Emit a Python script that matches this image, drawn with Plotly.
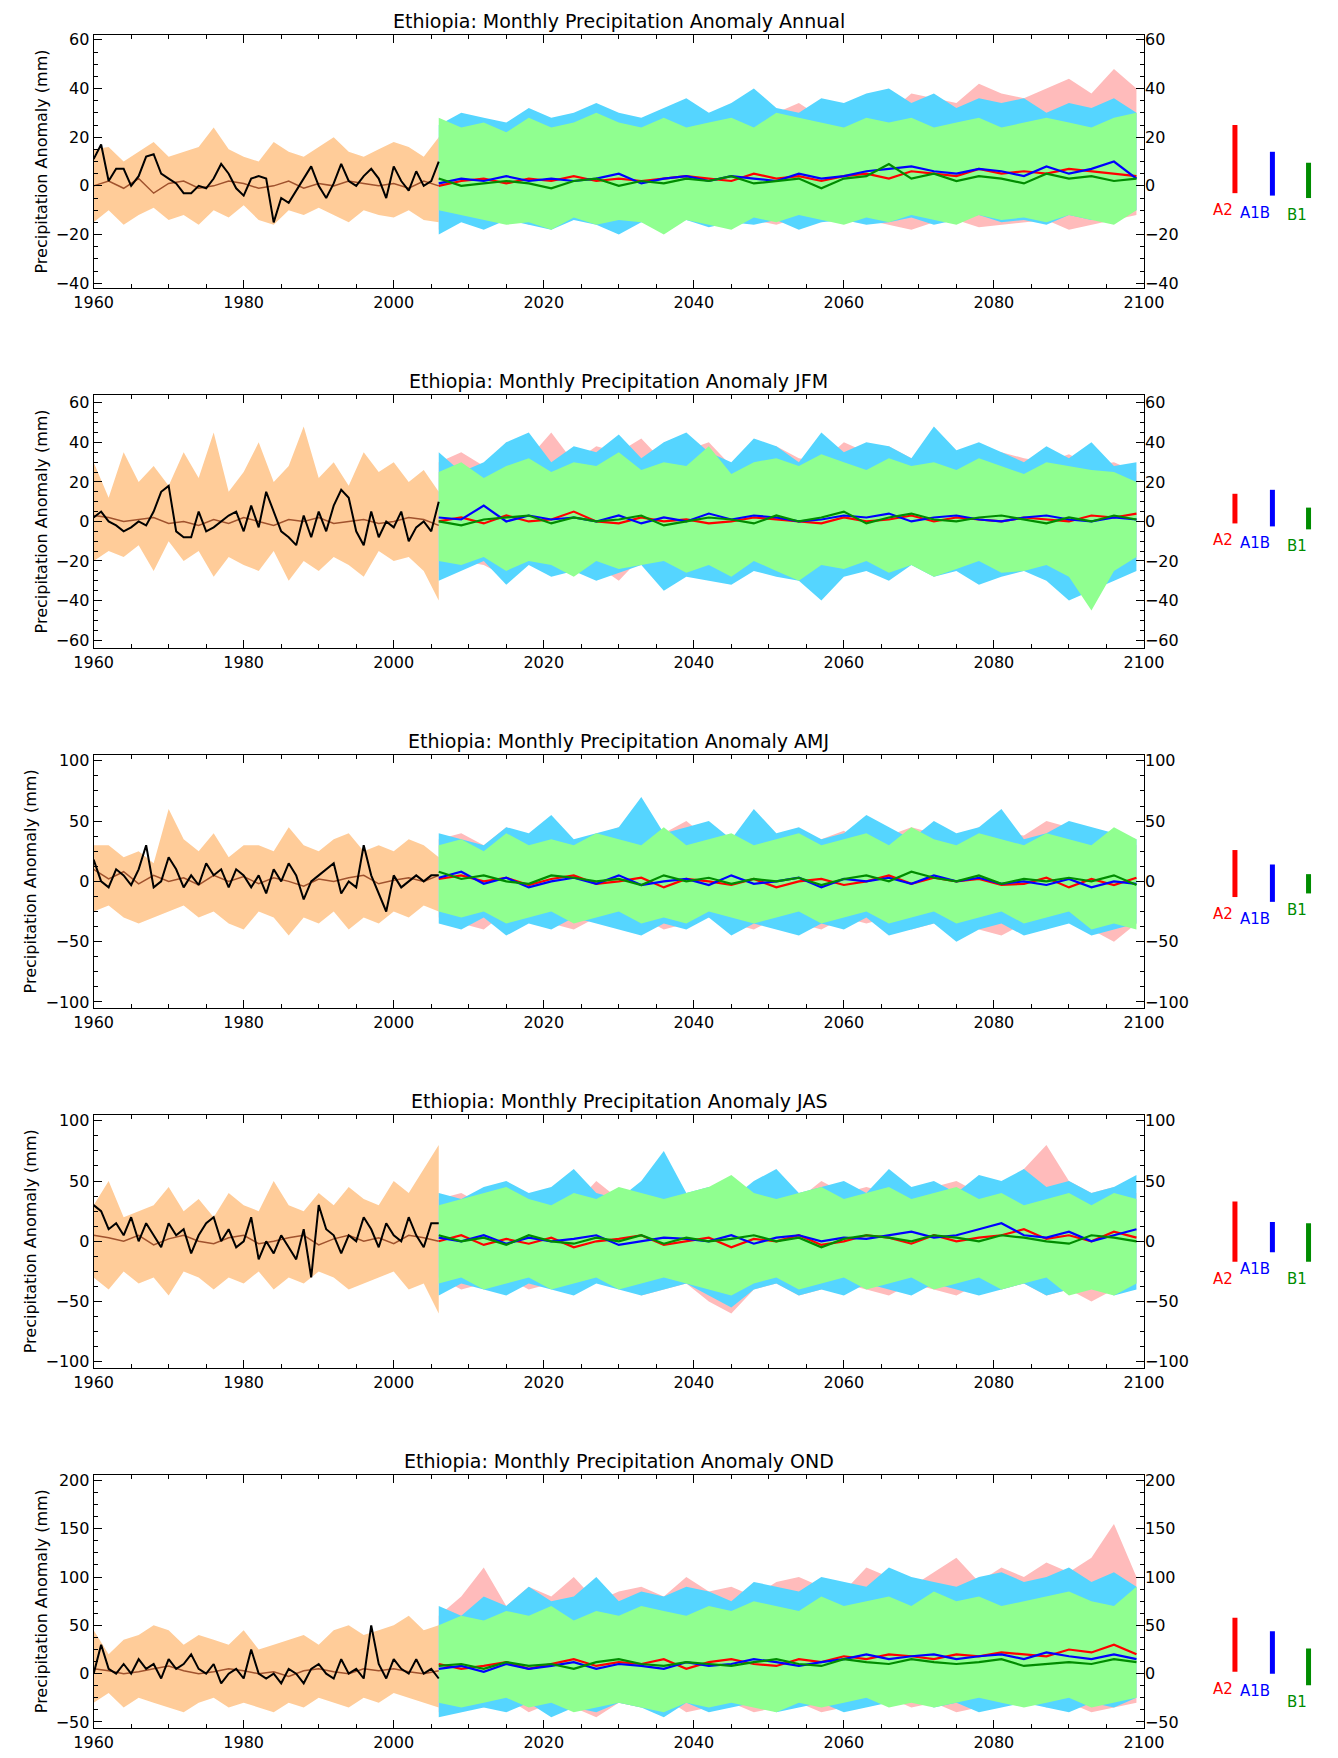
import plotly.graph_objects as go

HIST_YEARS = list(range(1960, 2007))
HIST_YEARS2 = list(range(1960, 2007, 2))
FUT_YEARS = list(range(2006, 2101, 3))

# ---------------- Annual ----------------
ANN_OBS = [11, 17, 2, 7, 7, 0, 4, 12, 13, 5, 3, 1, -3, -3, 0, -1, 3, 9, 5, -1, -4, 3, 4, 3, -15, -5, -7,
           -2, 3, 8, 0, -5, 1, 9, 2, 0, 4, 7, 3, -5, 8, 2, -2, 6, 0, 2, 10]
ANN_HMEAN = [0, 2, -1, 3, -3, 1, 2, -1, 0, 2, 1, -1, 0, 2, -1, 1, 0, 2, 1, 0, 1, -1, 2, 0]
ANN_HHI = [15, 16, 10, 14, 18, 12, 14, 16, 24, 15, 12, 10, 18, 14, 12, 16, 20, 14, 12, 15, 18, 16, 12, 20]
ANN_HLO = [-15, -10, -16, -12, -9, -14, -12, -16, -10, -13, -8, -14, -16, -10, -12, -9, -12, -15, -10, -12,
           -13, -10, -14, -15]
ANN_A2 = [0, 2, 3, 1, 3, 2, 4, 2, 3, 2, 3, 4, 3, 2, 5, 3, 4, 2, 4, 5, 3, 6, 5, 4, 7, 5, 6, 5, 7, 6, 5, 4]
ANN_A1B = [1, 3, 2, 4, 2, 3, 2, 3, 5, 1, 3, 4, 2, 4, 3, 2, 5, 3, 4, 6, 7, 8, 6, 5, 7, 6, 4, 8, 5, 7, 10, 3]
ANN_B1 = [3, 0, 1, 2, 1, -1, 2, 3, 0, 2, 1, 3, 2, 4, 1, 2, 3, -1, 3, 4, 9, 3, 5, 2, 4, 3, 1, 5, 3, 4, 2, 3]
ANN_A2_HI = [20, 28, 22, 25, 30, 24, 26, 28, 22, 26, 30, 25, 28, 32, 27, 30, 34, 28, 32, 35, 30, 38, 36, 34,
             42, 38, 36, 40, 44, 38, 48, 40]
ANN_A2_LO = [-18, -14, -15, -12, -16, -14, -12, -15, -16, -12, -14, -13, -15, -12, -14, -16, -13, -15, -12,
             -14, -16, -18, -15, -14, -17, -16, -15, -14, -18, -16, -14, -12]
ANN_A1B_HI = [25, 30, 28, 26, 32, 28, 30, 34, 30, 28, 32, 36, 30, 34, 40, 32, 30, 36, 34, 38, 40, 34, 38,
              32, 36, 34, 36, 30, 34, 32, 36, 30]
ANN_A1B_LO = [-20, -15, -18, -14, -16, -18, -14, -16, -20, -15, -16, -14, -17, -15, -16, -14, -18, -15,
              -14, -16, -15, -13, -16, -14, -12, -15, -14, -16, -12, -14, -13, -10]
ANN_B1_HI = [28, 24, 26, 22, 28, 24, 26, 30, 26, 24, 28, 24, 26, 28, 24, 30, 28, 26, 24, 28, 26, 28, 24,
             26, 28, 24, 26, 28, 26, 24, 28, 30]
ANN_B1_LO = [-10, -12, -14, -16, -15, -18, -13, -16, -14, -15, -20, -14, -16, -18, -13, -15, -12, -14,
             -16, -13, -15, -12, -14, -16, -12, -14, -13, -15, -12, -14, -16, -10]
ANN_BARS = [(-3, 25), (-4, 14), (-5, 9.5)]

# ---------------- JFM ----------------
JFM_OBS = [2, 5, 0, -2, -5, -3, 0, -2, 5, 15, 18, -5, -8, -8, 5, -5, -3, 0, 3, 5, -5, 8, -3, 15, 5, -5,
           -8, -12, 3, -8, 5, -5, 8, 16, 12, -5, -12, 5, -8, 0, -3, 5, -10, -3, 0, -5, 10]
JFM_HMEAN = [3, 2, 0, 1, 2, -1, 0, -2, 1, -1, 2, 0, -2, 1, 0, 2, -1, 0, 1, -1, 0, 2, 1, -2]
JFM_HHI = [30, 12, 35, 20, 28, 18, 35, 22, 45, 15, 25, 40, 20, 28, 48, 22, 30, 18, 35, 25, 30, 20, 26, 15]
JFM_HLO = [-20, -15, -18, -12, -25, -10, -20, -15, -28, -18, -22, -25, -15, -30, -20, -25, -18, -22, -28,
           -15, -20, -18, -25, -40]
JFM_A2 = [0, 2, -1, 3, 0, 1, 5, 0, -1, 2, 0, 1, -1, 0, 2, 1, 0, -1, 2, 0, 1, 3, 0, 2, 1, 0, 2, 1, 0, 3, 2, 4]
JFM_A1B = [2, 1, 8, 0, 3, 1, 2, 0, 3, -1, 2, 0, 4, 1, 3, 2, 0, 1, 3, 2, 4, 0, 2, 3, 1, 0, 2, 3, 1, 0, 2, 1]
JFM_B1 = [0, -2, 1, 2, 3, -1, 2, 0, 1, 3, -2, 0, 2, 1, -1, 3, 0, 2, 5, -1, 2, 4, 1, 0, 2, 3, 1, -1, 2, 0, 3, 1]
JFM_A2_HI = [30, 35, 28, 40, 32, 45, 30, 38, 35, 42, 30, 36, 40, 28, 35, 38, 32, 30, 40, 35, 38, 32, 36,
             30, 28, 35, 32, 30, 34, 28, 30, 25]
JFM_A2_LO = [-25, -20, -22, -28, -18, -25, -20, -22, -30, -18, -24, -20, -26, -22, -18, -25, -28, -20,
             -22, -24, -18, -20, -26, -22, -20, -24, -22, -25, -28, -30, -25, -20]
JFM_A1B_HI = [35, 25, 30, 40, 45, 30, 38, 35, 44, 32, 40, 45, 35, 30, 42, 38, 30, 45, 35, 40, 38, 32, 48,
              36, 40, 35, 30, 38, 32, 40, 28, 30]
JFM_A1B_LO = [-30, -25, -20, -32, -22, -28, -25, -30, -26, -22, -35, -28, -30, -32, -25, -28, -30, -40,
              -28, -25, -30, -22, -28, -25, -32, -28, -25, -30, -40, -35, -30, -25]
JFM_B1_HI = [25, 30, 22, 28, 32, 25, 30, 28, 35, 26, 30, 28, 38, 24, 30, 32, 28, 34, 30, 26, 32, 28, 30,
             26, 32, 28, 24, 30, 28, 26, 25, 20]
JFM_B1_LO = [-20, -22, -18, -25, -20, -22, -28, -20, -24, -22, -20, -26, -22, -28, -20, -25, -30, -22,
             -24, -20, -26, -22, -28, -24, -20, -26, -25, -22, -28, -45, -25, -18]
JFM_BARS = [(-1, 14), (-2.5, 16), (-4, 7)]

# ---------------- AMJ ----------------
AMJ_OBS = [18, 0, -5, 10, 5, -3, 10, 30, -5, 0, 20, 10, -5, 5, -3, 15, 5, 10, -5, 10, 5, -5, 5, -10, 10,
           0, 15, 5, -15, 0, 5, 10, 15, -10, 0, -5, 30, 5, -10, -25, 5, -5, 0, 5, 0, 5, 5]
AMJ_HMEAN = [10, 2, 8, -2, 5, 0, 3, -3, 5, 0, 4, -2, 3, 0, -4, 2, 0, 3, 5, -2, 1, 3, 0, 5]
AMJ_HHI = [30, 30, 20, 25, 15, 60, 35, 25, 40, 20, 30, 30, 25, 45, 30, 25, 35, 40, 25, 30, 25, 35, 30, 20]
AMJ_HLO = [-25, -20, -30, -35, -30, -25, -20, -30, -25, -35, -40, -25, -30, -45, -30, -35, -25, -40, -30,
           -35, -25, -30, -20, -25]
AMJ_A2 = [2, 5, 0, 3, -3, 2, 5, -2, 0, 3, -5, 2, 0, -3, 2, -5, 0, 2, -3, 0, 5, -2, 3, 0, 2, -3, -2, 3, -5,
          2, -3, 3]
AMJ_A1B = [3, 8, -2, 3, -5, 0, 3, -2, 5, -3, 0, 2, -3, 5, -2, 0, 3, -5, 2, 0, 3, -2, 5, 0, 3, -2, 0, -3,
           2, -5, 0, -2]
AMJ_B1 = [8, 2, 5, 0, -2, 5, 3, 0, 2, -3, 5, 0, 3, -2, 2, 0, 3, -3, 2, 5, 0, 8, 3, 0, 5, -2, 2, 0, 3, 0,
          5, -3]
AMJ_A2_HI = [35, 40, 30, 45, 35, 40, 30, 38, 45, 35, 40, 50, 35, 30, 45, 38, 40, 35, 42, 30, 38, 45, 40,
             35, 45, 40, 38, 50, 45, 35, 40, 30]
AMJ_A2_LO = [-30, -35, -40, -25, -30, -35, -40, -30, -35, -30, -40, -35, -30, -35, -40, -30, -35, -40,
             -30, -35, -30, -40, -35, -30, -40, -45, -35, -40, -30, -40, -50, -35]
AMJ_A1B_HI = [40, 35, 30, 45, 40, 55, 35, 40, 45, 70, 40, 45, 50, 35, 60, 40, 45, 35, 40, 55, 45, 35, 50,
              40, 45, 60, 35, 40, 50, 45, 40, 35]
AMJ_A1B_LO = [-35, -40, -30, -45, -35, -40, -30, -35, -40, -45, -35, -40, -30, -45, -35, -40, -45, -35,
              -40, -30, -45, -40, -35, -50, -40, -35, -45, -40, -35, -45, -40, -35]
AMJ_B1_HI = [30, 35, 25, 40, 30, 35, 30, 40, 35, 30, 45, 30, 35, 40, 30, 35, 40, 30, 35, 40, 30, 45, 35,
             30, 40, 35, 30, 40, 35, 30, 45, 35]
AMJ_B1_LO = [-25, -30, -25, -35, -30, -25, -35, -30, -25, -35, -30, -35, -25, -30, -35, -30, -25, -35,
             -30, -25, -35, -30, -25, -35, -30, -25, -35, -30, -25, -40, -35, -40]
AMJ_BARS = [(-13, 26), (-17, 14), (-10, 6)]

# ---------------- JAS ----------------
JAS_OBS = [30, 25, 10, 15, 5, 20, 0, 15, 5, -5, 15, 5, 10, -10, 5, 15, 20, 0, 10, -5, 0, 20, -15, 0, -10,
           5, -5, -15, 10, -30, 30, 10, 5, -10, 5, 0, 20, 10, -5, 15, 5, 0, 20, 5, -5, 15, 15]
JAS_HMEAN = [5, 3, 0, 5, -3, 2, 5, 0, -2, 3, 5, -2, 0, 3, 5, -3, 2, 5, 0, 3, -2, 5, 3, 0]
JAS_HHI = [30, 50, 20, 25, 30, 45, 25, 35, 20, 40, 30, 25, 50, 30, 25, 40, 30, 45, 35, 30, 50, 40, 60, 80]
JAS_HLO = [-30, -40, -25, -35, -30, -45, -25, -30, -40, -30, -35, -25, -40, -30, -35, -25, -30, -40, -35,
           -30, -25, -40, -35, -60]
JAS_A2 = [0, 5, -3, 2, -2, 3, -5, 0, 2, 5, -3, 0, 3, -5, 2, 0, 5, -3, 0, 5, 3, -2, 5, 0, 3, 5, 10, 2, 5,
          0, 8, 3]
JAS_A1B = [3, 0, 5, -2, 3, 0, 2, 5, -3, 0, 3, 2, 0, 5, -2, 3, 5, 0, 3, 2, 5, 8, 3, 5, 10, 15, 5, 3, 8, 0,
           5, 10]
JAS_B1 = [5, 0, 3, -3, 5, 0, -2, 3, 0, 5, -2, 3, 0, 2, 5, 0, 3, -5, 2, 5, 3, 0, 5, 3, 0, 5, 3, 0, -2, 5,
          3, 0]
JAS_A2_HI = [35, 40, 30, 45, 35, 40, 30, 50, 35, 40, 45, 35, 40, 35, 45, 40, 35, 50, 40, 45, 40, 35, 45,
             50, 40, 45, 60, 80, 50, 40, 45, 40]
JAS_A2_LO = [-30, -40, -35, -30, -40, -35, -40, -30, -35, -45, -40, -35, -50, -60, -40, -35, -45, -40,
             -35, -40, -45, -35, -40, -45, -35, -40, -35, -45, -40, -50, -40, -35]
JAS_A1B_HI = [40, 35, 45, 50, 40, 45, 60, 40, 35, 50, 75, 40, 45, 35, 50, 60, 40, 45, 50, 40, 60, 45, 50,
              40, 55, 50, 60, 45, 50, 40, 45, 55]
JAS_A1B_LO = [-45, -35, -40, -45, -35, -40, -45, -35, -40, -45, -40, -35, -45, -55, -40, -35, -45, -40,
              -45, -35, -40, -45, -35, -40, -45, -40, -35, -45, -40, -35, -45, -40]
JAS_B1_HI = [30, 35, 40, 45, 35, 30, 40, 35, 45, 40, 35, 40, 45, 55, 40, 35, 40, 45, 35, 40, 45, 35, 40,
             45, 35, 40, 30, 35, 40, 30, 40, 35]
JAS_B1_LO = [-35, -30, -40, -35, -30, -40, -35, -30, -40, -35, -30, -35, -40, -45, -35, -30, -40, -35,
             -30, -40, -35, -30, -40, -35, -30, -40, -35, -30, -45, -40, -45, -35]
JAS_BARS = [(-17, 33), (-9, 16), (-17, 15)]

# ---------------- OND ----------------
OND_OBS = [0, 30, 5, 0, 10, 0, 15, 5, 10, -5, 15, 5, 10, 20, 5, 0, 10, -10, 0, 5, -5, 25, 0, -5, 0, -10,
           5, 0, -10, 5, 10, 0, -5, 15, 0, 5, -5, 50, 10, -5, 15, 5, 0, 15, 0, 5, -5]
OND_HMEAN = [5, 3, 0, 2, 5, 8, 3, 0, 2, 5, 3, 0, 2, -3, 3, 5, 2, 0, 5, 3, 5, 2, 0, 3]
OND_HHI = [45, 20, 35, 40, 50, 45, 30, 40, 35, 30, 45, 25, 30, 35, 40, 30, 45, 50, 40, 45, 50, 60, 45, 50]
OND_HLO = [-30, -20, -35, -25, -30, -35, -40, -30, -25, -35, -30, -35, -40, -30, -35, -25, -30, -35, -25,
           -30, -20, -25, -30, -35]
OND_A2 = [10, 5, 8, 12, 5, 10, 15, 8, 12, 10, 15, 5, 12, 15, 10, 8, 15, 12, 18, 15, 20, 18, 15, 20, 18,
          22, 20, 18, 25, 22, 30, 20]
OND_A1B = [5, 8, 2, 10, 5, 8, 12, 5, 10, 8, 5, 12, 8, 10, 15, 12, 8, 12, 15, 20, 15, 18, 20, 15, 18, 20,
           15, 22, 18, 15, 20, 15]
OND_B1 = [8, 10, 5, 12, 8, 10, 5, 12, 15, 10, 8, 12, 10, 8, 12, 15, 10, 8, 15, 12, 10, 15, 12, 10, 12, 15,
          8, 10, 12, 10, 15, 12]
OND_A2_HI = [60, 80, 110, 70, 90, 80, 100, 75, 85, 90, 80, 100, 85, 90, 80, 95, 100, 90, 85, 110, 100, 90,
             105, 120, 95, 110, 100, 115, 105, 120, 155, 100]
OND_A2_LO = [-40, -30, -35, -25, -40, -30, -35, -45, -30, -35, -25, -40, -35, -30, -40, -35, -30, -40,
             -35, -30, -25, -35, -30, -40, -35, -30, -25, -35, -30, -40, -35, -30]
OND_A1B_HI = [70, 60, 80, 70, 90, 75, 80, 100, 75, 85, 80, 90, 85, 75, 95, 90, 85, 100, 95, 90, 110, 100,
              95, 90, 100, 105, 95, 100, 110, 95, 105, 90]
OND_A1B_LO = [-45, -40, -35, -40, -30, -45, -35, -40, -30, -35, -45, -30, -40, -35, -30, -40, -35, -30,
              -40, -35, -30, -25, -35, -30, -40, -35, -30, -35, -40, -30, -35, -25]
OND_B1_HI = [50, 60, 55, 65, 60, 70, 55, 65, 60, 70, 65, 60, 70, 65, 75, 70, 65, 80, 70, 75, 80, 70, 85,
             75, 80, 70, 75, 80, 85, 75, 70, 90]
OND_B1_LO = [-30, -35, -30, -25, -35, -30, -40, -35, -30, -35, -40, -30, -35, -30, -35, -40, -30, -35,
             -30, -25, -35, -30, -35, -30, -25, -30, -35, -30, -25, -35, -30, -25]
OND_BARS = [(2, 58), (0, 44), (-12, 26)]

SCENARIOS = ['A2', 'A1B', 'B1']
BAND_COLOURS = ['#FFBBBB', '#55D5FF', '#90FF90']
LINE_COLOURS = ['#FF0000', '#0000FF', '#008C00']
HIST_BAND = '#FFCC99'
HIST_LINE = '#A0522D'
FONT = 'DejaVu Sans'

PANELS = [
    ('Annual', [-42, 62], 20, ANN_OBS, ANN_HMEAN, ANN_HHI, ANN_HLO,
     [ANN_A2, ANN_A1B, ANN_B1], [ANN_A2_HI, ANN_A1B_HI, ANN_B1_HI], [ANN_A2_LO, ANN_A1B_LO, ANN_B1_LO], ANN_BARS),
    ('JFM', [-64, 64], 20, JFM_OBS, JFM_HMEAN, JFM_HHI, JFM_HLO,
     [JFM_A2, JFM_A1B, JFM_B1], [JFM_A2_HI, JFM_A1B_HI, JFM_B1_HI], [JFM_A2_LO, JFM_A1B_LO, JFM_B1_LO], JFM_BARS),
    ('AMJ', [-105, 105], 50, AMJ_OBS, AMJ_HMEAN, AMJ_HHI, AMJ_HLO,
     [AMJ_A2, AMJ_A1B, AMJ_B1], [AMJ_A2_HI, AMJ_A1B_HI, AMJ_B1_HI], [AMJ_A2_LO, AMJ_A1B_LO, AMJ_B1_LO], AMJ_BARS),
    ('JAS', [-105, 105], 50, JAS_OBS, JAS_HMEAN, JAS_HHI, JAS_HLO,
     [JAS_A2, JAS_A1B, JAS_B1], [JAS_A2_HI, JAS_A1B_HI, JAS_B1_HI], [JAS_A2_LO, JAS_A1B_LO, JAS_B1_LO], JAS_BARS),
    ('OND', [-56, 206], 50, OND_OBS, OND_HMEAN, OND_HHI, OND_HLO,
     [OND_A2, OND_A1B, OND_B1], [OND_A2_HI, OND_A1B_HI, OND_B1_HI], [OND_A2_LO, OND_A1B_LO, OND_B1_LO], OND_BARS),
]

H = 1563.0
fig = go.Figure()
layout = dict(width=1338, height=1758, margin=dict(l=0, r=0, t=0, b=0, autoexpand=False),
              paper_bgcolor='white', plot_bgcolor='white', showlegend=False,
              font=dict(family=FONT, size=16, color='black'))
annotations = []
shapes = []
BAR_X = [0.917, 0.945, 0.972]

for i, (season, yr, dt, obs, hmean, hhi, hlo, means, his, los, bars) in enumerate(PANELS):
    k = i + 1
    xa = 'x' if k == 1 else 'x%d' % k
    ya = 'y%d' % (2 * k - 1) if k > 1 else 'y'
    yb = 'y%d' % (2 * k)
    top = 24 + 320 * i
    bot = 249 + 320 * i
    dom = [1 - bot / H, 1 - top / H]

    def band(x, lo, hi, colour):
        fig.add_trace(go.Scatter(x=x, y=lo, mode='lines', line=dict(width=0), xaxis=xa, yaxis=ya,
                                 hoverinfo='skip'))
        fig.add_trace(go.Scatter(x=x, y=hi, mode='lines', line=dict(width=0), fill='tonexty',
                                 fillcolor=colour, xaxis=xa, yaxis=ya, hoverinfo='skip'))

    band(HIST_YEARS2, hlo, hhi, HIST_BAND)
    for j in range(3):
        band(FUT_YEARS, los[j], his[j], BAND_COLOURS[j])
    fig.add_trace(go.Scatter(x=HIST_YEARS2, y=hmean, mode='lines', line=dict(color=HIST_LINE, width=1.5),
                             xaxis=xa, yaxis=ya))
    fig.add_trace(go.Scatter(x=HIST_YEARS, y=obs, mode='lines', line=dict(color='black', width=2),
                             xaxis=xa, yaxis=ya))
    for j in range(3):
        fig.add_trace(go.Scatter(x=FUT_YEARS, y=means[j], mode='lines',
                                 line=dict(color=LINE_COLOURS[j], width=2.2), xaxis=xa, yaxis=ya))
    # invisible trace so the right-hand axis is drawn
    fig.add_trace(go.Scatter(x=[1960], y=[0], mode='markers', marker=dict(opacity=0),
                             xaxis=xa, yaxis=yb, hoverinfo='skip'))

    axis_common = dict(showgrid=False, zeroline=False, ticks='inside', ticklen=8, automargin=False,
                       linecolor='black', linewidth=1, tickcolor='black',
                       tickfont=dict(size=16, family=FONT))
    xname = 'xaxis' if k == 1 else 'xaxis%d' % k
    layout[xname] = dict(axis_common, domain=[0.064, 0.849], range=[1960, 2100], dtick=20, tick0=1960,
                         anchor=ya, mirror='ticks', minor=dict(ticks='inside', ticklen=4, dtick=5))
    layout['yaxis' if k == 1 else 'yaxis%d' % (2 * k - 1)] = dict(
        axis_common, domain=dom, range=yr, dtick=dt, tick0=0, anchor=xa, mirror='ticks',
        minor=dict(ticks='inside', ticklen=4, dtick=dt / 4),
        title=dict(text='Precipitation Anomaly (mm)', font=dict(size=16, family=FONT), standoff=4))
    layout['yaxis%d' % (2 * k)] = dict(axis_common, domain=dom, range=yr, dtick=dt, tick0=0,
                                       anchor=xa, overlaying=ya, side='right', showline=False)
    annotations.append(dict(text='Ethiopia: Monthly Precipitation Anomaly ' + season, xref='paper',
                            yref='paper', x=0.4565, y=dom[1], yanchor='bottom', yshift=1,
                            showarrow=False, font=dict(size=19, family=FONT)))
    for j in range(3):
        lo, hi = bars[j]
        shapes.append(dict(type='line', xref='paper', yref=ya, x0=BAR_X[j], x1=BAR_X[j], y0=lo, y1=hi,
                           line=dict(color=LINE_COLOURS[j], width=5)))
        annotations.append(dict(text=SCENARIOS[j], xref='paper', yref=ya, x=BAR_X[j], y=lo,
                                yanchor='top', yshift=-6, showarrow=False,
                                font=dict(size=15, family=FONT, color=LINE_COLOURS[j])))

layout['annotations'] = annotations
layout['shapes'] = shapes
fig.update_layout(**layout)
fig.write_html("out.html")
